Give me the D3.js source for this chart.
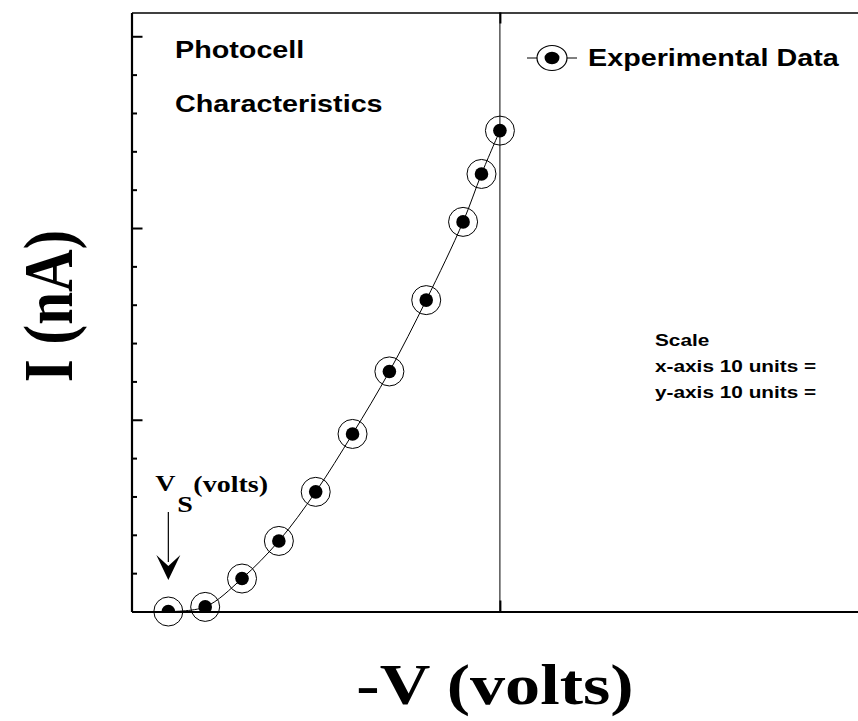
<!DOCTYPE html>
<html>
<head>
<meta charset="utf-8">
<script src="https://cdn.jsdelivr.net/npm/d3@7/dist/d3.min.js"></script>
<style>
  body { margin: 0; background: #fff; }
  svg { display: block; }
  .sans { font-family: 'Liberation Sans', Arial, sans-serif; font-weight: bold; }
  .serif { font-family: 'Liberation Serif', 'Times New Roman', serif; font-weight: bold; }
</style>
</head>
<body>
<script>
// readings: stopping voltage (x) vs photocurrent (y)
const voltage = [1, 2, 3, 4, 5, 6, 7, 8, 9, 9.5, 10];
const current = [0.0, 0.12, 0.86, 1.84, 3.12, 4.63, 6.26, 8.12, 10.16, 11.41, 12.54];

const yMinorTicks = [1, 2, 3, 4, 6, 7, 8, 9, 11, 12, 13, 14];
const yMajorTicks = [5, 10, 15];
const xMajorTicks = [10];

const titleLines = ['Photocell', 'Characteristics'];
const scaleLines = ['Scale', 'x-axis 10 units =', 'y-axis 10 units ='];
const legendLabel = 'Experimental Data';

const width = 858;
const height = 721;
const plot = { left: 131.5, top: 12.5, right: 858, bottom: 611.5 };
const X_MAX = 19.72;
const Y_MAX = 15.62;
const STRETCH = 1.25; // the original picture is widened, text included

const x = d3.scaleLinear().domain([0, X_MAX]).range([plot.left, plot.right]);
const y = d3.scaleLinear().domain([0, Y_MAX]).range([plot.bottom, plot.top]);

const svg = d3.select('body')
  .append('svg')
  .attr('width', width)
  .attr('height', height);

svg.append('defs')
  .append('clipPath')
  .attr('id', 'plot-clip')
  .append('rect')
  .attr('x', plot.left)
  .attr('y', plot.top)
  .attr('width', plot.right - plot.left)
  .attr('height', plot.bottom - plot.top);

const stretchedText = (parent, cls, size, px, py, text, sx = STRETCH) =>
  parent.append('text')
    .attr('class', cls)
    .attr('font-size', size)
    .attr('transform', `translate(${ px },${ py }) scale(${ sx },1)`)
    .text(text);

// axes
const styleAxis = (g, w) => {
  g.selectAll('.domain').attr('stroke', '#000').attr('stroke-width', w);
  g.selectAll('.tick line').attr('stroke', '#000').attr('stroke-width', 2);
};

svg.append('g')
  .attr('transform', `translate(${ plot.left },0)`)
  .call(d3.axisLeft(y).tickValues(yMinorTicks).tickSize(-5.5).tickSizeOuter(0).tickFormat(''))
  .call(g => styleAxis(g, 2.2));

svg.append('g')
  .attr('transform', `translate(${ plot.left },0)`)
  .call(d3.axisLeft(y).tickValues(yMajorTicks).tickSize(-11).tickSizeOuter(0).tickFormat(''))
  .call(g => g.select('.domain').remove())
  .call(g => styleAxis(g, 2));

svg.append('g')
  .attr('transform', `translate(0,${ plot.bottom })`)
  .call(d3.axisBottom(x).tickValues(xMajorTicks).tickSize(-11).tickSizeOuter(0).tickFormat(''))
  .call(g => styleAxis(g, 2.2));

svg.append('g')
  .attr('transform', `translate(0,${ plot.top })`)
  .call(d3.axisTop(x).tickValues(xMajorTicks).tickSize(-11).tickSizeOuter(0).tickFormat(''))
  .call(g => styleAxis(g, 1.6));

svg.append('g')
  .selectAll('line')
  .data(xMajorTicks)
  .enter()
  .append('line')
  .attr('x1', d => x(d))
  .attr('x2', d => x(d))
  .attr('y1', plot.top)
  .attr('y2', plot.bottom)
  .attr('stroke', '#000')
  .attr('stroke-width', 1);

// curve + markers
const points = voltage.map((v, i) => ({ v, c: current[i] }));

svg.append('path')
  .datum(points)
  .attr('clip-path', 'url(#plot-clip)')
  .attr('fill', 'none')
  .attr('stroke', '#000')
  .attr('stroke-width', 1)
  .attr('d', d3.line().x(d => x(d.v)).y(d => y(d.c)).curve(d3.curveCatmullRom.alpha(0.5)));

const markers = svg.append('g')
  .selectAll('.marker')
  .data(points)
  .enter()
  .append('g')
  .attr('class', 'marker');

markers.append('circle')
  .attr('cx', d => x(d.v))
  .attr('cy', d => y(d.c))
  .attr('r', 14.5)
  .attr('fill', 'none')
  .attr('stroke', '#000')
  .attr('stroke-width', 1);

markers.append('circle')
  .attr('clip-path', 'url(#plot-clip)')
  .attr('cx', d => x(d.v))
  .attr('cy', d => y(d.c))
  .attr('r', 6.8)
  .attr('fill', '#000');

// titles
titleLines.forEach((t, i) => stretchedText(svg, 'sans', 23, 175, 58 + i * 54, t));

// legend
const legend = svg.append('g').attr('transform', 'translate(552,58)');
legend.append('line')
  .attr('x1', -25).attr('x2', 25)
  .attr('stroke', '#000').attr('stroke-width', 1);
const legendMark = legend.append('g').attr('transform', `scale(${ 1.2 },1)`);
legendMark.append('circle').attr('r', 12.5).attr('fill', '#fff').attr('stroke', '#000').attr('stroke-width', 1);
legendMark.append('circle').attr('r', 6.2).attr('fill', '#000');
stretchedText(svg, 'sans', 23, 588, 66, legendLabel);

// scale note
scaleLines.forEach((t, i) => stretchedText(svg, 'sans', 16, 655, 346 + i * 26, t, 1.3));

// stopping potential marker
const vsX = x(voltage[0]);
svg.append('line')
  .attr('x1', vsX).attr('x2', vsX)
  .attr('y1', 512).attr('y2', 562)
  .attr('stroke', '#000').attr('stroke-width', 1.2);
svg.append('path')
  .attr('d', `M${ vsX - 12 },555 L${ vsX },566 L${ vsX + 12 },555 L${ vsX },580 Z`)
  .attr('fill', '#000');
stretchedText(svg, 'serif', 23, vsX - 13, 491, 'V', 1.22);
stretchedText(svg, 'serif', 23, vsX + 9, 512, 'S', 1.22);
stretchedText(svg, 'serif', 23, vsX + 25, 492, '(volts)', 1.22);

// axis titles
svg.append('text')
  .attr('class', 'serif')
  .attr('font-size', 58)
  .attr('text-anchor', 'middle')
  .attr('transform', `translate(495,704) scale(1.21,1)`)
  .text('-V (volts)');

svg.append('text')
  .attr('class', 'serif')
  .attr('font-size', 59)
  .attr('text-anchor', 'middle')
  .attr('transform', `translate(72,306) scale(1.18,1) rotate(-90)`)
  .text('I (nA)');
</script>
</body>
</html>
